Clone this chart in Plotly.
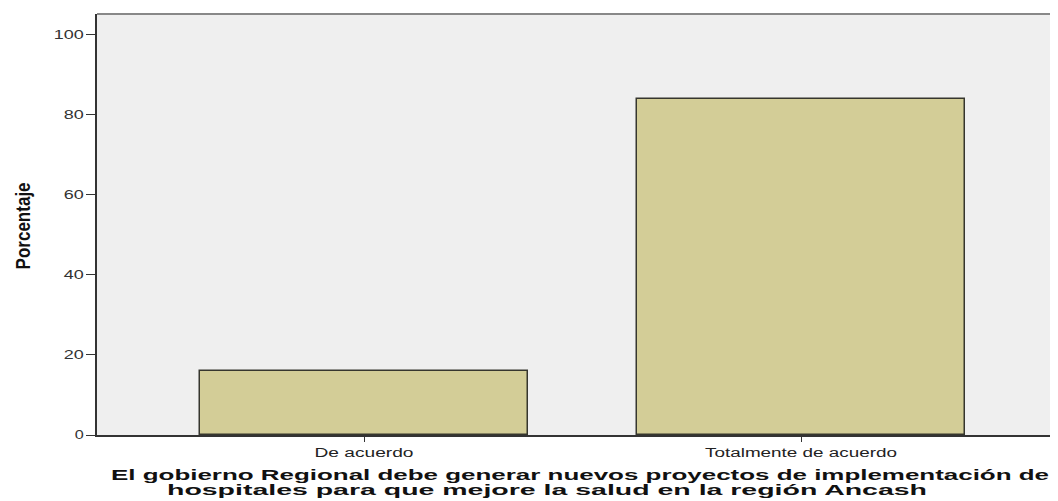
import json
import plotly.graph_objects as go

categories = ["De acuerdo", "Totalmente de acuerdo"]
percentages = [16, 84]
y_ticks = [0, 20, 40, 60, 80, 100]
x_title_line1 = "El gobierno Regional debe generar nuevos proyectos de implementación de"
x_title_line2 = "hospitales para que mejore la salud en la región Ancash"
y_title = "Porcentaje"

fig = go.Figure()
fig.add_trace(go.Bar(
    x=[0, 1], y=percentages, width=0.75,
    marker=dict(color="#d3cd97", line=dict(color="#36362e", width=1.5)),
))

fig.update_layout(
    width=1050, height=493,
    margin=dict(l=89, r=0, t=6, b=66),
    paper_bgcolor="white", plot_bgcolor="#efefef",
    showlegend=False, bargap=0,
    font=dict(family="Liberation Sans, Arial", color="#333333"),
)
fig.update_xaxes(
    range=[-0.611, 1.588], tickvals=[0, 1], ticktext=categories,
    ticks="outside", ticklen=5, tickwidth=1, tickcolor="#333",
    tickfont=dict(family="Liberation Sans", size=12.5, color="#222"),
    showline=True, linecolor="#333", linewidth=1.5,
    showgrid=False, zeroline=False,
)
fig.update_yaxes(
    range=[0, 105.2], tickvals=y_ticks,
    ticks="outside", ticklen=9, tickwidth=1, tickcolor="#333",
    tickfont=dict(family="Liberation Sans", size=12.5, color="#333"),
    showline=True, linecolor="#333", linewidth=1.5,
    showgrid=False, zeroline=False,
)
# top border
fig.add_shape(type="line", xref="paper", yref="paper", x0=0, x1=1, y0=1, y1=1,
              line=dict(color="#888888", width=2))
fig.add_annotation(
    text=y_title, xref="paper", yref="paper", x=-0.077, y=0.495,
    xanchor="center", yanchor="middle", textangle=-90, showarrow=False,
    font=dict(family="Liberation Sans", size=21, weight="bold", color="#111"),
)
fig.add_annotation(
    text=x_title_line1, xref="paper", yref="paper", x=0.0125, y=-0.0935,
    xanchor="left", yanchor="middle", align="left", showarrow=False,
    font=dict(family="Liberation Sans", size=15, weight="bold", color="#111"),
)
fig.add_annotation(
    text=x_title_line2, xref="paper", yref="paper", x=0.0705, y=-0.129,
    xanchor="left", yanchor="middle", align="left", showarrow=False,
    font=dict(family="Liberation Sans", size=15, weight="bold", color="#111"),
)

# widths of the texts as they appear (horizontally stretched) in the reference
text_widths = {
    "De acuerdo": 99, "Totalmente de acuerdo": 192,
    "100": 30, "80": 20, "60": 20, "40": 20, "20": 20, "0": 9,
    x_title_line1: 938, x_title_line2: 760, y_title: 87,
}

post = """
var gd = document.getElementById('{plot_id}');
var W = %s;
function stretch(){
  gd.querySelectorAll('text').forEach(function(t){
    var s = t.textContent;
    if (W.hasOwnProperty(s)) {
      t.setAttribute('textLength', W[s]);
      t.setAttribute('lengthAdjust', 'spacingAndGlyphs');
    }
  });
}
stretch();
gd.on('plotly_afterplot', stretch);
""" % json.dumps(text_widths, ensure_ascii=False)

fig.write_html("out.html", post_script=post)
